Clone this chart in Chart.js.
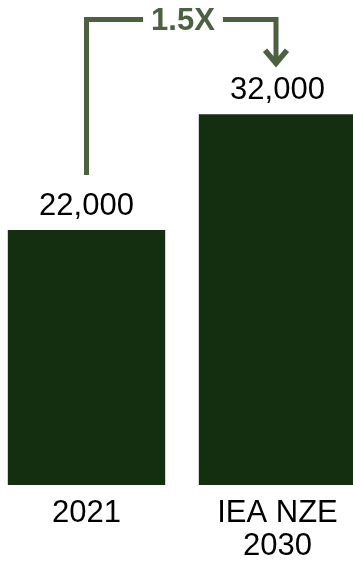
<!DOCTYPE html>
<html>
<head>
<meta charset="utf-8">
<script src="https://cdn.jsdelivr.net/npm/chart.js@4/dist/chart.umd.min.js"></script>
<style>
  html, body { margin: 0; padding: 0; background: #ffffff; overflow: hidden; }
  #wrap { position: relative; width: 353px; height: 563px; overflow: hidden; }
  /* canvas is a bit wider than the window so the bars sit like in the picture */
  #growthChart { position: absolute; left: -9px; top: 0; }
</style>
</head>
<body>
<div id="wrap">
  <canvas id="growthChart" width="382" height="563"></canvas>
</div>
<script>
// --- data ---
const categories = ['2021', ['IEA NZE', '2030']];
const values = [22000, 32000];
const valueLabels = ['22,000', '32,000'];
const growthLabel = '1.5X';

const BAR_COLOR = '#142e10';
const ARROW_COLOR = '#4b6140';
const FONT = '"Liberation Sans", Arial, sans-serif';

// value labels above each bar
const valueLabelPlugin = {
    id: 'valueLabels',
    afterDatasetsDraw(chart) {
        const ctx = chart.ctx;
        const meta = chart.getDatasetMeta(0);
        ctx.save();
        ctx.font = '31px ' + FONT;
        ctx.fillStyle = '#000000';
        ctx.textAlign = 'center';
        ctx.textBaseline = 'alphabetic';
        meta.data.forEach((bar, i) => {
            ctx.fillText(valueLabels[i], bar.x, bar.y - 15);
        });
        ctx.restore();
    }
};

// bracket arrow from first bar to second bar with the growth label
const growthArrowPlugin = {
    id: 'growthArrow',
    afterDatasetsDraw(chart) {
        const ctx = chart.ctx;
        const meta = chart.getDatasetMeta(0);
        const a = meta.data[0];
        const b = meta.data[1];
        const topY = 19.5;
        const startY = a.y - 55;
        const tipY = b.y - 48;
        const midX = (a.x + b.x) / 2 + 1;

        ctx.save();
        ctx.font = 'bold 31px ' + FONT;
        const textW = ctx.measureText(growthLabel).width;
        const gap = 8;

        ctx.strokeStyle = ARROW_COLOR;
        ctx.lineWidth = 5;
        ctx.lineJoin = 'miter';
        ctx.lineCap = 'butt';

        ctx.beginPath();
        ctx.moveTo(a.x, startY);
        ctx.lineTo(a.x, topY);
        ctx.lineTo(midX - textW / 2 - gap, topY);
        ctx.stroke();

        ctx.beginPath();
        ctx.moveTo(midX + textW / 2 + gap, topY);
        ctx.lineTo(b.x - 1.5, topY);
        ctx.lineTo(b.x - 1.5, tipY - 2);
        ctx.stroke();

        // arrow head
        ctx.lineWidth = 5.5;
        ctx.beginPath();
        ctx.moveTo(b.x - 12.5, tipY - 16);
        ctx.lineTo(b.x - 1.5, tipY - 3);
        ctx.lineTo(b.x + 9.5, tipY - 16);
        ctx.stroke();

        ctx.fillStyle = ARROW_COLOR;
        ctx.textAlign = 'center';
        ctx.textBaseline = 'middle';
        ctx.fillText(growthLabel, midX, topY + 2);
        ctx.restore();
    }
};

new Chart(document.getElementById('growthChart').getContext('2d'), {
    type: 'bar',
    data: {
        labels: categories,
        datasets: [{
            data: values,
            backgroundColor: BAR_COLOR,
            borderWidth: 0,
            categoryPercentage: 1,
            barPercentage: 0.824
        }]
    },
    options: {
        responsive: false,
        animation: false,
        devicePixelRatio: 1,
        layout: { padding: 0 },
        plugins: {
            legend: { display: false },
            tooltip: { enabled: false }
        },
        scales: {
            y: {
                display: false,
                min: 0,
                max: 41850
            },
            x: {
                grid: { display: false, drawTicks: false },
                border: { display: false },
                afterFit(scale) { scale.height = 78; },
                ticks: {
                    color: '#000000',
                    padding: 12,
                    maxRotation: 0,
                    autoSkip: false,
                    font: { family: FONT, size: 31, lineHeight: 1.07 }
                }
            }
        }
    },
    plugins: [valueLabelPlugin, growthArrowPlugin]
});
</script>
</body>
</html>
